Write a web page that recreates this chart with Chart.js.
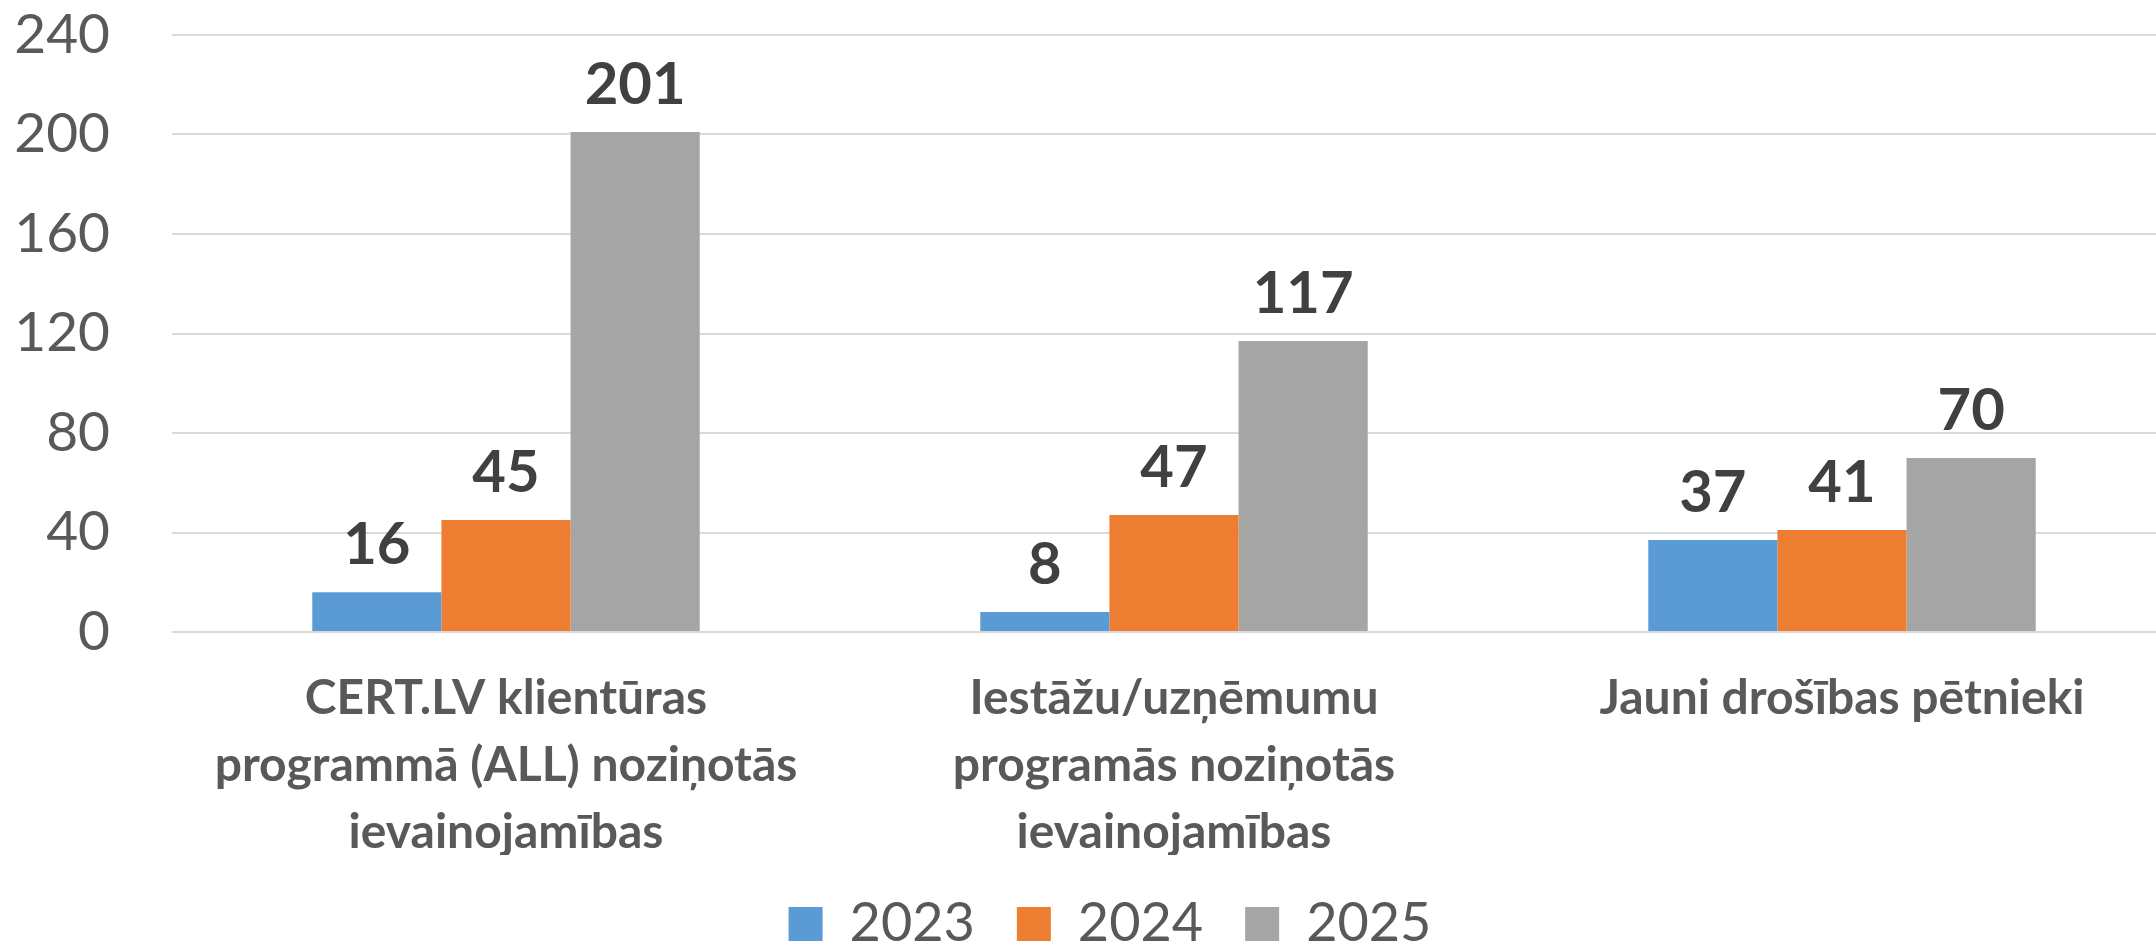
<!DOCTYPE html>
<html>
<head>
<meta charset="utf-8">
<script src="https://cdn.jsdelivr.net/npm/chart.js@4/dist/chart.umd.min.js"></script>
<style>
  html, body { margin: 0; padding: 0; background: #fff; overflow: hidden; }
  /* plot area goes a bit past the right edge, like in the original */
  #wrap { width: 2176px; height: 949px; }
</style>
</head>
<body>
<div id="wrap"><canvas id="chart"></canvas></div>
<script>
// dati
var categories = [
	["CERT.LV klientūras", "programmā (ALL) noziņotās", "ievainojamības"],
	["Iestāžu/uzņēmumu", "programās noziņotās", "ievainojamības"],
	"Jauni drošības pētnieki"
]
var values2023 = [16, 8, 37]
var values2024 = [45, 47, 41]
var values2025 = [201, 117, 70]
var yTicks = [0, 40, 80, 120, 160, 200, 240]

var FONT = "Lato, 'Open Sans', sans-serif"

// vertibas virs stabiem
var barValues = {
	id: 'barValues',
	afterDatasetsDraw: function (chart) {
		var ctx = chart.ctx
		ctx.save()
		ctx.font = "bold 58px " + FONT
		ctx.fillStyle = '#404040'
		ctx.textAlign = 'center'
		ctx.textBaseline = 'alphabetic'
		chart.data.datasets.forEach(function (ds, i) {
			chart.getDatasetMeta(i).data.forEach(function (bar, j) {
				ctx.fillText(String(ds.data[j]), bar.x, bar.y - 28)
			})
		})
		ctx.restore()
	}
}

// legend a bit to the right
var legendShift = {
	id: 'legendShift',
	afterLayout: function (chart) {
		chart.legend.left += 22
		chart.legend.right += 22
	}
}

var ctx = document.getElementById('chart').getContext('2d')
var myBarChart = new Chart(ctx, {
	type: 'bar',
	data: {
		labels: categories,
		datasets: [
			{ label: '2023', data: values2023, backgroundColor: '#5B9BD5' },
			{ label: '2024', data: values2024, backgroundColor: '#ED7D31' },
			{ label: '2025', data: values2025, backgroundColor: '#A5A5A5' }
		]
	},
	options: {
		responsive: true,
		maintainAspectRatio: false,
		animation: false,
		datasets: {
			bar: { categoryPercentage: 0.58, barPercentage: 1.0 }
		},
		layout: {
			padding: { left: 0, right: 0, top: 35, bottom: -12 }
		},
		plugins: {
			tooltip: { enabled: false },
			legend: {
				position: 'bottom',
				labels: {
					font: { family: FONT, size: 54 },
					color: '#595959',
					boxWidth: 34,
					boxHeight: 34,
					padding: 42
				}
			}
		},
		scales: {
			x: {
				grid: { display: false },
				border: { display: false },
				ticks: {
					font: { family: FONT, size: 48, weight: 'bold', lineHeight: 1.4 },
					color: '#595959',
					padding: 25,
					maxRotation: 0,
					autoSkip: false
				},
				afterFit: function (scale) { scale.height = 223 }
			},
			y: {
				min: 0,
				max: 240,
				afterBuildTicks: function (scale) {
					scale.ticks = yTicks.map(function (v) { return { value: v } })
				},
				grid: { color: '#D9D9D9', lineWidth: 2, tickLength: 62, tickColor: 'rgba(0,0,0,0)' },
				border: { display: false },
				ticks: {
					font: { family: FONT, size: 55 },
					color: '#595959',
					padding: 0
				},
				afterFit: function (scale) { scale.width = 172 }
			}
		}
	},
	plugins: [barValues, legendShift]
})
</script>
</body>
</html>
